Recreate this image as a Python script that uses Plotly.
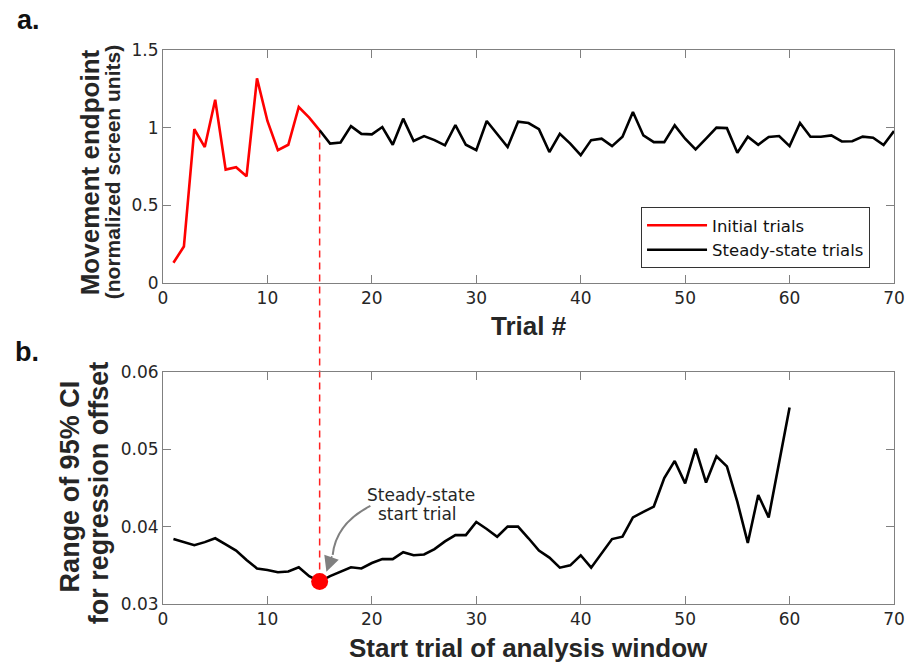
import plotly.graph_objects as go

# ---------------- data ----------------
trials_a = list(range(1, 71))
endpoint = [0.13, 0.235, 0.99, 0.875, 1.18, 0.73, 0.745, 0.687, 1.317, 1.043,
            0.855, 0.89, 1.133, 1.065, 0.983, 0.898, 0.905, 1.01, 0.96, 0.957,
            1.004, 0.89, 1.058, 0.914, 0.946, 0.92, 0.886, 1.017, 0.89, 0.855,
            1.043, 0.957, 0.875, 1.038, 1.03, 0.99, 0.843, 0.96, 0.897, 0.823,
            0.92, 0.929, 0.881, 0.942, 1.101, 0.95, 0.907, 0.907, 1.015, 0.929,
            0.86, 0.929, 1.0, 0.997, 0.838, 0.942, 0.89, 0.94, 0.946, 0.881,
            1.03, 0.942, 0.942, 0.95, 0.911, 0.913, 0.942, 0.935, 0.888, 0.978]
steady_start = 15

trials_b = list(range(1, 61))
ci_range = [0.0384, 0.0380, 0.0376, 0.0380, 0.0385, 0.0377, 0.0369, 0.0357, 0.0346, 0.0344,
            0.0341, 0.0342, 0.03475, 0.0336, 0.0329, 0.0336, 0.0342, 0.03475, 0.0346, 0.0353,
            0.0358, 0.0358, 0.0367, 0.0363, 0.0364, 0.0371, 0.0381, 0.0389, 0.0389, 0.0406,
            0.0397, 0.0387, 0.0400, 0.0400, 0.0385, 0.0369, 0.0360, 0.0347, 0.0350, 0.0363,
            0.0347, 0.0366, 0.0384, 0.0387, 0.0412, 0.0419, 0.0426, 0.0463, 0.0485, 0.0456,
            0.0501, 0.0457, 0.0491, 0.0478, 0.0432, 0.0379, 0.0441, 0.0412, 0.0483, 0.0554]

x_ticks = [0, 10, 20, 30, 40, 50, 60, 70]
ya_ticks = [0, 0.5, 1, 1.5]
ya_labels = ["0", "0.5", "1", "1.5"]
yb_ticks = [0.03, 0.04, 0.05, 0.06]
yb_labels = ["0.03", "0.04", "0.05", "0.06"]

# ---------------- layout geometry ----------------
W, H = 917, 663
ML, MR, MT, MB = 163, 20, 50, 59
PW, PH = W - ML - MR, H - MT - MB
dom_a = [(H - MB - 283) / PH, 1.0]
dom_b = [0.0, (H - MB - 372) / PH]
ya_range = [0, 1.5]
yb_range = [0.03, 0.06]


def px(xp):
    return (xp - ML) / PW


def py(yp):
    return (H - MB - yp) / PH


TICK_FONT = dict(family="DejaVu Sans", size=17, color="#262626")
TITLE_FONT = "Liberation Sans"
AX_COL = "#808080"

i0 = steady_start - 1
fig = go.Figure()
fig.add_trace(go.Scatter(x=trials_a[:i0 + 1], y=endpoint[:i0 + 1], mode="lines",
                         line=dict(color="#ff0000", width=2.6), name="Initial trials",
                         xaxis="x", yaxis="y"))
fig.add_trace(go.Scatter(x=trials_a[i0:], y=endpoint[i0:], mode="lines",
                         line=dict(color="#000000", width=2.6), name="Steady-state trials",
                         xaxis="x", yaxis="y"))
fig.add_trace(go.Scatter(x=trials_b, y=ci_range, mode="lines",
                         line=dict(color="#000000", width=2.6), showlegend=False,
                         xaxis="x2", yaxis="y2"))
fig.add_trace(go.Scatter(x=[trials_b[i0]], y=[ci_range[i0]], mode="markers",
                         marker=dict(color="#ff0000", size=17), showlegend=False,
                         xaxis="x2", yaxis="y2"))

axis_common = dict(showline=True, linecolor=AX_COL, linewidth=1, mirror="ticks",
                   ticks="inside", ticklen=8, tickcolor=AX_COL, tickwidth=1,
                   showgrid=False, zeroline=False, tickfont=TICK_FONT)

# dashed connector from top curve to red dot
y_top = dom_a[0] + (endpoint[i0] - ya_range[0]) / (ya_range[1] - ya_range[0]) * (dom_a[1] - dom_a[0])
y_bot = dom_b[0] + (ci_range[i0] - yb_range[0]) / (yb_range[1] - yb_range[0]) * (dom_b[1] - dom_b[0])

shapes = [
    dict(type="line", xref="x", yref="paper", x0=steady_start, x1=steady_start,
         y0=y_bot, y1=y_top, line=dict(color="#ff2020", width=1.5, dash="7px,5px"),
         layer="below"),
    dict(type="path", xref="x2", yref="y2",
         path="M19.86,0.04268 Q16.56,0.04041 16.25,0.03634",
         line=dict(color="#808080", width=2)),
]

annotations = [
    dict(text="<b>a.</b>", x=px(14), y=py(20), xref="paper", yref="paper",
         xanchor="left", yanchor="middle", showarrow=False,
         font=dict(family=TITLE_FONT, size=27, color="#111")),
    dict(text="<b>b.</b>", x=px(12), y=py(352), xref="paper", yref="paper",
         xanchor="left", yanchor="middle", showarrow=False,
         font=dict(family=TITLE_FONT, size=27, color="#111")),
    dict(text="<b>Trial #</b>", x=0.5, y=py(326), xref="paper", yref="paper",
         xanchor="center", yanchor="middle", showarrow=False,
         font=dict(family=TITLE_FONT, size=26, color="#262626")),
    dict(text="<b>Start trial of analysis window</b>", x=0.5, y=py(648), xref="paper", yref="paper",
         xanchor="center", yanchor="middle", showarrow=False,
         font=dict(family=TITLE_FONT, size=26, color="#262626")),
    dict(text="<b>Movement endpoint</b>", x=px(90), y=py(172), xref="paper", yref="paper",
         xanchor="center", yanchor="middle", textangle=-90, showarrow=False,
         font=dict(family=TITLE_FONT, size=26, color="#262626")),
    dict(text="<b>(normalized screen units)</b>", x=px(112), y=py(172), xref="paper", yref="paper",
         xanchor="center", yanchor="middle", textangle=-90, showarrow=False,
         font=dict(family=TITLE_FONT, size=21, color="#262626")),
    dict(text="<b>Range of 95% CI</b>", x=px(70), y=py(486), xref="paper", yref="paper",
         xanchor="center", yanchor="middle", textangle=-90, showarrow=False,
         font=dict(family=TITLE_FONT, size=27, color="#262626")),
    dict(text="<b>for regression offset</b>", x=px(99), y=py(493), xref="paper", yref="paper",
         xanchor="center", yanchor="middle", textangle=-90, showarrow=False,
         font=dict(family=TITLE_FONT, size=27, color="#262626")),
    dict(text="Steady-state", x=24.67, y=0.04405, xref="x2", yref="y2",
         xanchor="center", yanchor="middle", showarrow=False,
         font=dict(family="DejaVu Sans", size=17, color="#262626")),
    dict(text="start trial", x=24.4, y=0.04165, xref="x2", yref="y2",
         xanchor="center", yanchor="middle", showarrow=False,
         font=dict(family="DejaVu Sans", size=17, color="#262626")),
    dict(text="", x=15.65, y=0.03418, xref="x2", yref="y2", showarrow=True,
         ax=6, ay=-17, axref="pixel", ayref="pixel", arrowhead=2, arrowsize=1.8,
         arrowwidth=1.7, arrowcolor="#808080", standoff=0),
]

fig.update_layout(
    width=W, height=H, autosize=False,
    margin=dict(l=ML, r=MR, t=MT, b=MB),
    paper_bgcolor="white", plot_bgcolor="rgba(0,0,0,0)",
    xaxis=dict(domain=[0, 1], anchor="y", range=[0, 70], tickvals=x_ticks, **axis_common),
    yaxis=dict(domain=dom_a, anchor="x", range=ya_range, tickvals=ya_ticks,
               ticktext=ya_labels, **axis_common),
    xaxis2=dict(domain=[0, 1], anchor="y2", range=[0, 70], tickvals=x_ticks, **axis_common),
    yaxis2=dict(domain=dom_b, anchor="x2", range=yb_range, tickvals=yb_ticks,
                ticktext=yb_labels, **axis_common),
    legend=dict(x=px(643), y=py(207), xanchor="left", yanchor="top",
                bordercolor="#333333", borderwidth=1, bgcolor="white",
                font=dict(family="DejaVu Sans", size=16.5, color="#111"),
                itemwidth=60, tracegroupgap=0),
    shapes=shapes,
    annotations=annotations,
)

fig.write_html("out.html",
               config={"displayModeBar": False},
               post_script=["document.body.style.margin='0';"
                            "document.body.style.overflow='hidden';"])
